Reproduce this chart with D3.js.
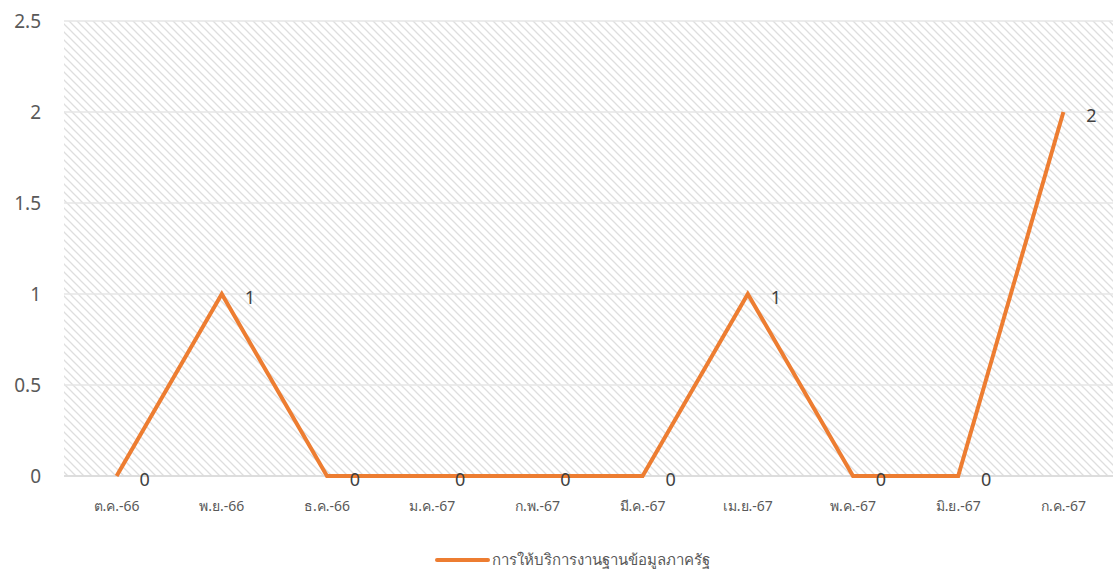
<!DOCTYPE html>
<html><head><meta charset="utf-8">
<script src="https://cdn.jsdelivr.net/npm/d3@7"></script>
<style>body{margin:0;background:#fff;}svg{display:block;font-family:"Noto Sans","DejaVu Sans",sans-serif;}</style>
</head><body><svg id="c" width="1113" height="574"></svg>
<script>
const categories = ["ต.ค.-66","พ.ย.-66","ธ.ค.-66","ม.ค.-67","ก.พ.-67","มี.ค.-67","เม.ย.-67","พ.ค.-67","มิ.ย.-67","ก.ค.-67"];
const values = [0,1,0,0,0,0,1,0,0,2];
const yTicks = [0,0.5,1,1.5,2,2.5];
const seriesName = "การให้บริการงานฐานข้อมูลภาครัฐ";

const svg = d3.select("#c");
const m = {left:64, right:1116, top:21, bottom:476};
const x = d3.scaleBand().domain(categories).range([m.left, m.right]);
const y = d3.scaleLinear().domain([0,2.5]).range([m.bottom, m.top]);

const defs = svg.append("defs");
const pat = defs.append("pattern").attr("id","hatch").attr("patternUnits","userSpaceOnUse")
  .attr("width",8).attr("height",8);
pat.append("path").attr("d","M-2,-2 L10,10 M-2,6 L2,10 M6,-2 L10,2")
  .attr("stroke","#dedede").attr("stroke-width",1.3);

svg.append("rect").attr("x",m.left).attr("y",m.top).attr("width",m.right-m.left).attr("height",m.bottom-m.top)
  .attr("fill","url(#hatch)");

// gridlines
svg.append("g").selectAll("line").data(yTicks).join("line")
  .attr("x1",m.left).attr("x2",m.right).attr("y1",d=>y(d)).attr("y2",d=>y(d))
  .attr("stroke","#e6e6e6").attr("stroke-width",1.5);
svg.append("line").attr("x1",m.left).attr("x2",m.right).attr("y1",y(0)).attr("y2",y(0))
  .attr("stroke","#d9d9d9").attr("stroke-width",1.5);

// y axis labels
svg.append("g").selectAll("text").data(yTicks).join("text")
  .attr("x",41).attr("y",d=>y(d)).attr("dy","0.35em").attr("text-anchor","end")
  .attr("font-size",19).attr("fill","#595959").text(d=>d);

// x axis labels
svg.append("g").selectAll("text").data(categories).join("text")
  .attr("x",d=>x(d)+x.bandwidth()/2).attr("y",506).attr("dy","0.35em").attr("text-anchor","middle")
  .attr("font-size",14).attr("fill","#595959").text(d=>d);

// line
const line = d3.line().x((d,i)=>x(categories[i])+x.bandwidth()/2).y(d=>y(d));
svg.append("path").datum(values).attr("d",line).attr("fill","none")
  .attr("stroke","#ed7d31").attr("stroke-width",4).attr("stroke-linejoin","miter");

// data labels
svg.append("g").selectAll("text").data(values).join("text")
  .attr("x",(d,i)=>x(categories[i])+x.bandwidth()/2+28).attr("y",d=>y(d)+4).attr("dy","0.35em")
  .attr("text-anchor","middle").attr("font-size",18).attr("fill","#404040").text(d=>d);

// legend
svg.append("line").attr("x1",437).attr("x2",488).attr("y1",560).attr("y2",560)
  .attr("stroke","#ed7d31").attr("stroke-width",4).attr("stroke-linecap","round");
svg.append("text").attr("x",492).attr("y",560).attr("dy","0.35em").attr("font-size",15)
  .attr("fill","#595959").text(seriesName);
</script></body></html>
